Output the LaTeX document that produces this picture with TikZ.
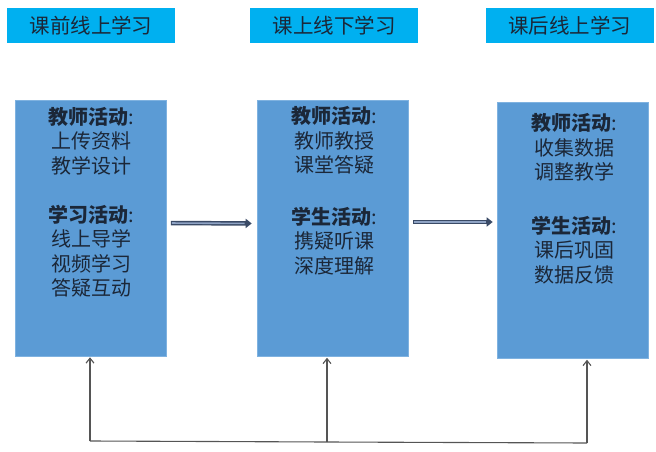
\documentclass[tikz,border=0pt]{standalone}
\usepackage{fontspec}
\newfontfamily\cjk{Noto Sans CJK SC}
\usetikzlibrary{arrows.meta}
\definecolor{titlecyan}{HTML}{00B0F0}
\definecolor{boxblue}{HTML}{5B9BD5}
\definecolor{boxedge}{HTML}{7FB2E0}
\definecolor{txtdark}{HTML}{1B2738}
\definecolor{arrdark}{HTML}{3A4A66}
\definecolor{arrlight}{HTML}{8FA3C4}
\definecolor{linegray}{HTML}{555555}
\begin{document}
\begin{tikzpicture}[x=1pt,y=-1pt,
  titlebox/.style={fill=titlecyan, draw=none, minimum width=168pt, minimum height=35pt, inner sep=0pt,
     font=\cjk\fontsize{20.5}{22}\selectfont, text=txtdark},
  mainbox/.style={fill=boxblue, draw=boxedge, line width=0.6pt, minimum width=151pt, minimum height=256pt, inner sep=0pt},
  boxtext/.style={anchor=north, align=center, inner sep=0pt, text=txtdark,
     font=\cjk\fontsize{20}{24.5}\selectfont},
  flowarrow/.style={line width=4.5pt, draw=arrdark, -{Triangle[length=6pt,width=9pt]}},
  flowinner/.style={line width=1.6pt, draw=arrlight},
  uparrow/.style={line width=1.1pt, draw=linegray, -{Straight Barb[length=5pt,width=8pt]}},
  baseline/.style={line width=1.1pt, draw=linegray}]
\useasboundingbox (0,0) rectangle (656,452);
% titles
\node[titlebox] (h1) at (91,26) {课前线上学习};
\node[titlebox] (h2) at (334,26) {课上线下学习};
\node[titlebox] (h3) at (569.5,26) {课后线上学习};
% main boxes
\node[mainbox] (b1) at (91,228) {};
\node[mainbox] (b2) at (332.5,228.5) {};
\node[mainbox] (b3) at (572.5,230.5) {};
% box texts
\node[boxtext] (t1) at ([yshift=-7pt]b1.north) {\textbf{教师活动}:\\上传资料\\教学设计\\[24.5pt]\textbf{学习活动}:\\线上导学\\视频学习\\答疑互动};
\node[boxtext] (t2) at ([yshift=-6pt,xshift=2pt]b2.north) {\textbf{教师活动}:\\教师教授\\课堂答疑\\[27pt]\textbf{学生活动}:\\携疑听课\\深度理解};
\node[boxtext] (t3) at ([yshift=-11pt,xshift=2pt]b3.north) {\textbf{教师活动}:\\收集数据\\调整教学\\[29pt]\textbf{学生活动}:\\课后巩固\\数据反馈};
% flow arrows
\draw[flowarrow, shorten <=4pt, shorten >=5pt] ([yshift=5pt]b1.east) -- ([yshift=5pt]b2.west);
\draw[flowinner, shorten <=5pt, shorten >=12pt] ([yshift=5pt]b1.east) -- ([yshift=5pt]b2.west);
\draw[flowarrow, shorten <=5pt, shorten >=4pt] ([yshift=6.5pt]b2.east) -- ([yshift=8.5pt]b3.west);
\draw[flowinner, shorten <=6pt, shorten >=11pt] ([yshift=6.5pt]b2.east) -- ([yshift=8.5pt]b3.west);
% feedback lines
\coordinate (c1) at (90,441);
\coordinate (c2) at (327,442);
\coordinate (c3) at (587,443);
\draw[baseline] (c1) -- (c2) -- (c3);
\draw[uparrow, shorten >=1pt] (c1) -- (c1 |- b1.south);
\draw[uparrow, shorten >=1pt] (c2) -- (c2 |- b2.south);
\draw[uparrow, shorten >=1pt] (c3) -- (c3 |- b3.south);
\end{tikzpicture}
\end{document}
